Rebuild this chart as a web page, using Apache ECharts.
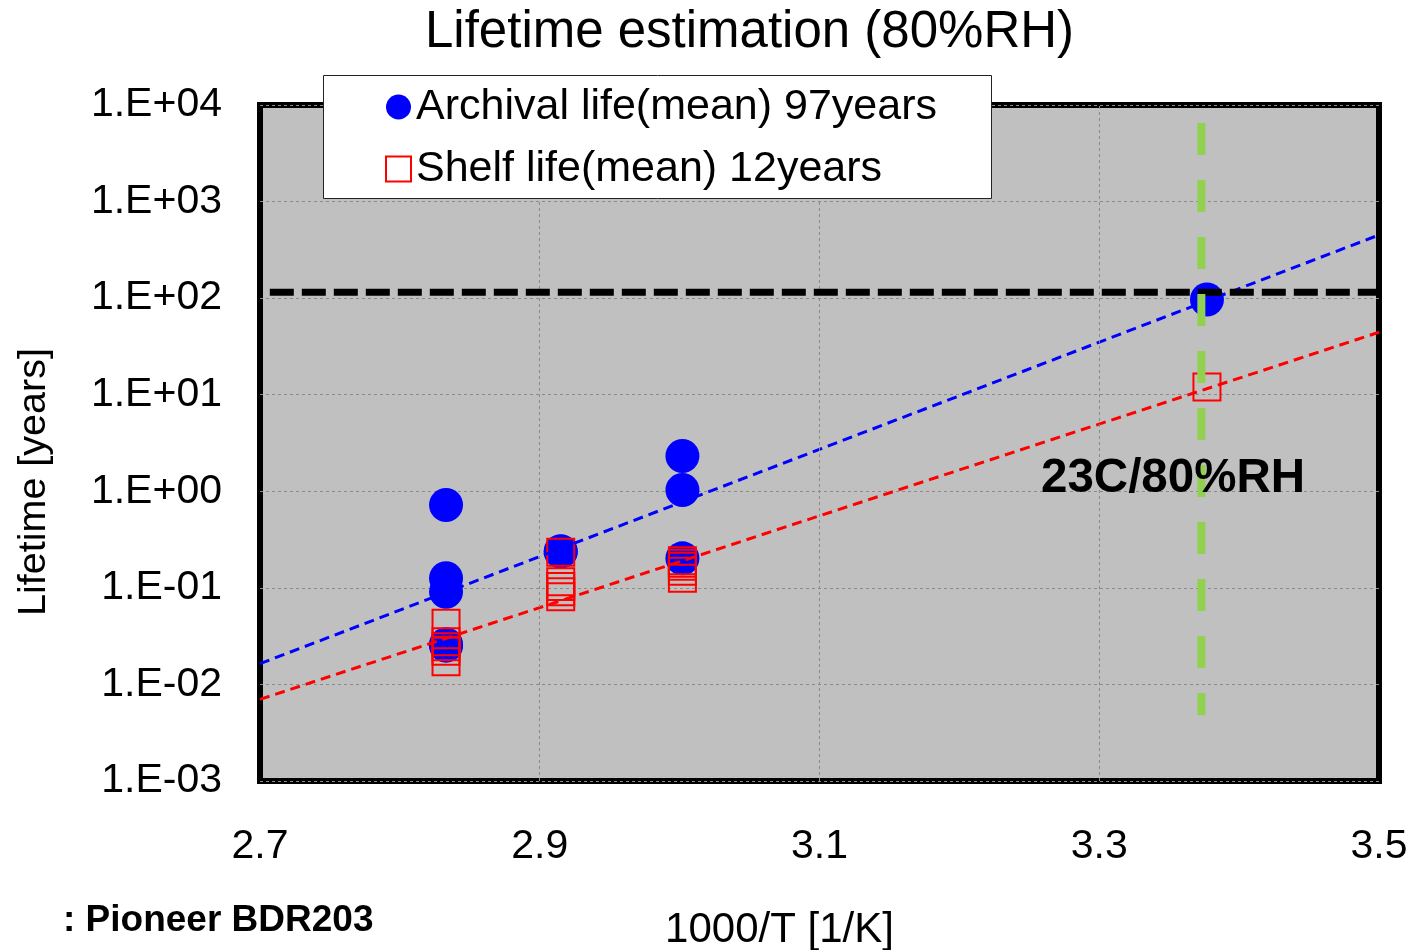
<!DOCTYPE html>
<html><head><meta charset="utf-8">
<script src="https://cdn.jsdelivr.net/npm/echarts@6/dist/echarts.min.js"></script>
<style>html,body{margin:0;padding:0;background:#fff}#c{width:1412px;height:950px}</style>
</head><body><div id="c"></div>
<script>
// ---- data ----
const titleText = 'Lifetime estimation (80%RH)';
const archivalName = 'Archival life(mean) 97years';
const shelfName = 'Shelf life(mean) 12years';
const archX = [2.833, 2.833, 2.833, 2.833, 2.833, 2.915, 2.915, 3.002, 3.002, 3.002, 3.377];
const archY = [0.72, 0.126, 0.091, 0.0252, 0.026, 0.237, 0.24, 2.32, 1.03, 0.202, 97];
const shelfX = [2.833, 2.833, 2.833, 2.833, 2.833, 2.915, 2.915, 2.915, 2.915, 2.915, 3.002, 3.002, 3.002, 3.002, 3.002, 3.377];
const shelfY = [0.043, 0.0277, 0.0246, 0.022, 0.0172, 0.234, 0.116, 0.103, 0.091, 0.081, 0.191, 0.18, 0.167, 0.149, 0.126, 12];
const archFitX = [2.7, 3.5];
const archFitY = [0.0164, 451];
const shelfFitX = [2.7, 3.5];
const shelfFitY = [0.00701, 44.3];
const targetX = [2.707, 3.5];
const targetY = [115, 115];
const condX = [3.373, 3.373];
const condY = [6500, 0.0048];
const xGridLines = [2.9, 3.1, 3.3];
const xMin = 2.7, xMax = 3.5, xStep = 0.1;
const yMin = 0.001, yMax = 10000;
const condLabel = '23C/80%RH';
const footNote = ': Pioneer BDR203';

const zip = (xs, ys) => xs.map((x, i) => [x, ys[i]]);
const FONT = '"Liberation Sans", Arial, sans-serif';

const chart = echarts.init(document.getElementById('c'), null, {renderer: 'canvas'});
chart.setOption({
  animation: false,
  backgroundColor: '#fff',
  textStyle: {fontFamily: FONT},
  title: {
    text: titleText, left: 420, top: 2,
    textStyle: {fontFamily: FONT, fontSize: 51, fontWeight: 'normal', color: '#000'}
  },
  grid: {
    left: 260, right: 33, top: 105, bottom: 169,
    containLabel: false, outerBoundsMode: 'none',
    show: true, backgroundColor: '#C0C0C0', borderColor: '#000', borderWidth: 6
  },
  xAxis: {
    type: 'value', min: xMin, max: xMax, interval: xStep,
    name: '1000/T [1/K]', nameLocation: 'middle', nameGap: 128,
    nameTextStyle: {fontFamily: FONT, fontSize: 42, color: '#000', padding: [0, 80, 0, 0]},
    axisLine: {show: false}, axisTick: {show: false}, splitLine: {show: false},
    axisLabel: {
      fontFamily: FONT, fontSize: 41, color: '#000', margin: 45,
      formatter: v => (Math.round(v * 10) % 2 === 1) ? v.toFixed(1) : ''
    }
  },
  yAxis: {
    type: 'log', logBase: 10, min: yMin, max: yMax,
    name: 'Lifetime [years]', nameLocation: 'middle', nameGap: 206, nameRotate: 90,
    nameTextStyle: {fontFamily: FONT, fontSize: 39.5, color: '#000', padding: [0, 78, 0, 0]},
    axisLine: {show: false}, axisTick: {show: false}, minorTick: {show: false},
    splitLine: {show: true, lineStyle: {color: '#8a8a8a', width: 1, type: [3, 3]}},
    axisLabel: {
      fontFamily: FONT, fontSize: 41, color: '#000', margin: 38,
      formatter: v => {
        const e = Math.round(Math.log10(v));
        return '1.E' + (e >= 0 ? '+' : '-') + String(Math.abs(e)).padStart(2, '0');
      }
    }
  },
  legend: {
    orient: 'vertical', left: 385, top: 85, padding: 0, itemGap: 18,
    itemWidth: 25, itemHeight: 25, z: 20, selectedMode: false,
    textStyle: {fontFamily: FONT, fontSize: 43, lineHeight: 44, color: '#000'},
    data: [archivalName, shelfName]
  },
  graphic: [
    {type: 'rect', left: 323, top: 75, z: 10,
     shape: {width: 668, height: 123}, style: {fill: '#fff', stroke: '#222', lineWidth: 1}},
    {type: 'text', left: 1041, top: 455, z: 30,
     style: {text: condLabel, font: 'bold 47.5px ' + FONT, fill: '#000'}},
    {type: 'text', left: 63, top: 902, z: 30,
     style: {text: footNote, font: 'bold 37px ' + FONT, fill: '#000'}}
  ],
  series: [
    {
      name: 'grid-x', type: 'line', data: [], silent: true,
      markLine: {
        silent: true, symbol: 'none', label: {show: false},
        lineStyle: {color: '#8a8a8a', width: 1, type: [3, 3]},
        data: xGridLines.map(x => ({xAxis: x}))
      }
    },
    {
      name: archivalName, type: 'scatter', data: zip(archX, archY),
      symbol: 'circle', symbolSize: 34, z: 2,
      itemStyle: {color: '#0000FF', opacity: 1}
    },
    {
      name: shelfName, type: 'scatter', data: zip(shelfX, shelfY),
      symbol: 'rect', symbolSize: 27, z: 3,
      itemStyle: {color: 'rgba(0,0,0,0)', borderColor: '#FF0000', borderWidth: 2, opacity: 1}
    },
    {
      name: 'archFit', type: 'line', data: zip(archFitX, archFitY), showSymbol: false, symbol: 'none', z: 4,
      lineStyle: {color: '#0000FF', width: 3, type: [10, 6]}
    },
    {
      name: 'shelfFit', type: 'line', data: zip(shelfFitX, shelfFitY), showSymbol: false, symbol: 'none', z: 4,
      lineStyle: {color: '#FF0000', width: 3, type: [10, 6]}
    },
    {
      name: 'target', type: 'line', data: zip(targetX, targetY), showSymbol: false, symbol: 'none', z: 5,
      lineStyle: {color: '#000', width: 7, type: [24, 8]}
    },
    {
      name: 'cond', type: 'line', data: zip(condX, condY), showSymbol: false, symbol: 'none', z: 6,
      lineStyle: {color: '#92D050', width: 8, type: [32, 25]}
    }
  ]
});
</script>
</body></html>
